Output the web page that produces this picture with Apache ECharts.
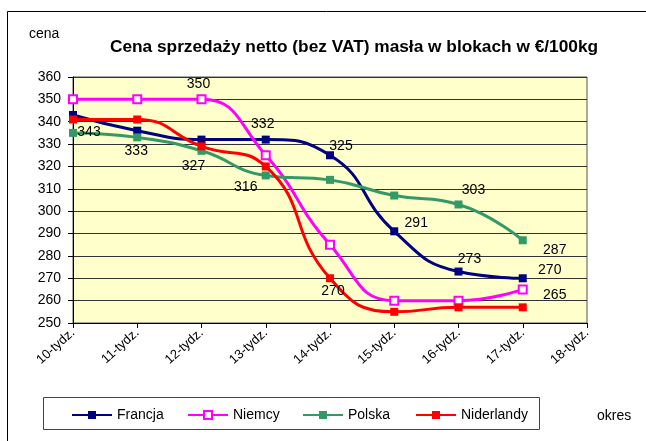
<!DOCTYPE html>
<html lang="pl">
<head>
<meta charset="UTF-8">
<title>Cena sprzedaży masła</title>
<script src="https://cdn.jsdelivr.net/npm/echarts@6/dist/echarts.min.js"></script>
<style>
  html, body {margin: 0; padding: 0; background: #fff;}
  #main {width: 646px; height: 441px;}
</style>
</head>
<body>
<div id="main"></div>
<script type="text/javascript">
// dane
var weeks = ['10-tydz.', '11-tydz.', '12-tydz.', '13-tydz.', '14-tydz.', '15-tydz.', '16-tydz.', '17-tydz.', '18-tydz.'];
var francja = [343, 336, 332, 332, 325, 291, 273, 270];
var niemcy = [350, 350, 350, 325, 285, 260, 260, 265];
var polska = [335, 333, 327, 316, 314, 307, 303, 287];
var niderlandy = [341, 341, 329, 320, 270, 255, 257, 257];
var names = ['Francja', 'Niemcy', 'Polska', 'Niderlandy'];

// ktore punkty maja etykiete i gdzie (przesuniecie od punktu)
var labelPos = {
    'Francja': {0: [16, 17], 3: [-3, -15], 4: [11, -9], 5: [22, -8], 6: [11, -12], 7: [27, -8]},
    'Niemcy': {2: [-3, -15], 7: [32, 6]},
    'Polska': {1: [-1, 14], 2: [-8, 15], 3: [-20, 12], 6: [15, -14], 7: [32, 10]},
    'Niderlandy': {4: [3, 13]}
};

var FONT = 'Liberation Sans, Arial, sans-serif';

function buildData(name, values) {
    return values.map(function (v, i) {
        var off = labelPos[name][i];
        if (!off) return v;
        return {
            value: v,
            label: {show: true, position: 'inside', offset: off}
        };
    });
}

function makeSeries(name, values, color, symbol) {
    return {
        name: name,
        type: 'line',
        smooth: 0.5,
        data: buildData(name, values),
        symbol: symbol,
        symbolSize: 8,
        lineStyle: {color: color, width: 3},
        itemStyle: {color: color, borderColor: color, borderWidth: symbol == 'emptyRect' ? 1.5 : 0},
        label: {
            show: false,
            color: '#000',
            fontSize: 14,
            fontFamily: FONT,
            align: 'center',
            verticalAlign: 'middle'
        },
        emphasis: {disabled: true},
        animation: false
    };
}

// kazda pozycja legendy osobno, zeby byly rowne odstepy jak w oryginale
var legendLeft = [71, 187, 302, 415];
var legends = names.map(function (n, i) {
    return {
        left: legendLeft[i], top: 408,
        padding: 0,
        itemWidth: 40, itemHeight: 10,
        textStyle: {fontSize: 14, color: '#000', fontFamily: FONT},
        data: [n]
    };
});

var myChart = echarts.init(document.getElementById('main'));

var option = {
    backgroundColor: '#fff',
    animation: false,
    textStyle: {fontFamily: FONT},
    title: [
        {
            text: 'Cena sprzedaży netto (bez VAT) masła w blokach w €/100kg',
            left: 349, top: 34, textAlign: 'center',
            textStyle: {fontSize: 17.3, fontWeight: 'bold', color: '#000', fontFamily: FONT}
        },
        {
            text: 'cena', left: 24, top: 22,
            textStyle: {fontSize: 14, fontWeight: 'normal', color: '#000', fontFamily: FONT}
        },
        {
            text: 'okres', left: 592, top: 404,
            textStyle: {fontSize: 14, fontWeight: 'normal', color: '#000', fontFamily: FONT}
        }
    ],
    graphic: [
        // ramka wykresu (lewa i gorna krawedz)
        {type: 'line', shape: {x1: 7.5, y1: 11.5, x2: 646, y2: 11.5}, style: {stroke: '#000', lineWidth: 1}},
        {type: 'line', shape: {x1: 7.5, y1: 11.5, x2: 7.5, y2: 441}, style: {stroke: '#000', lineWidth: 1}},
        // ramka legendy
        {type: 'rect', shape: {x: 43.5, y: 397.5, width: 496, height: 32}, style: {fill: 'none', stroke: '#444', lineWidth: 1}, z: 0}
    ],
    legend: legends,
    grid: {
        left: 73, right: 59, top: 77, bottom: 118,
        show: true, backgroundColor: '#FFFFCC', borderColor: '#555', borderWidth: 1
    },
    xAxis: {
        type: 'category',
        boundaryGap: false,
        data: weeks,
        axisLine: {lineStyle: {color: '#000', width: 1}},
        axisTick: {show: true, length: 5, lineStyle: {color: '#000'}},
        axisLabel: {rotate: 42, fontSize: 13, color: '#000', margin: 8, interval: 0},
        splitLine: {show: false}
    },
    yAxis: {
        type: 'value',
        min: 250, max: 360, interval: 10,
        axisLine: {show: true, lineStyle: {color: '#000', width: 1}},
        axisTick: {show: true, length: 5, lineStyle: {color: '#000'}},
        axisLabel: {fontSize: 14, color: '#000', margin: 12},
        splitLine: {show: true, lineStyle: {color: '#333', width: 1}}
    },
    series: [
        makeSeries('Francja', francja, '#000080', 'rect'),
        makeSeries('Niemcy', niemcy, '#FF00FF', 'emptyRect'),
        makeSeries('Polska', polska, '#339966', 'rect'),
        makeSeries('Niderlandy', niderlandy, '#FF0000', 'rect')
    ]
};

myChart.setOption(option);
</script>
</body>
</html>
